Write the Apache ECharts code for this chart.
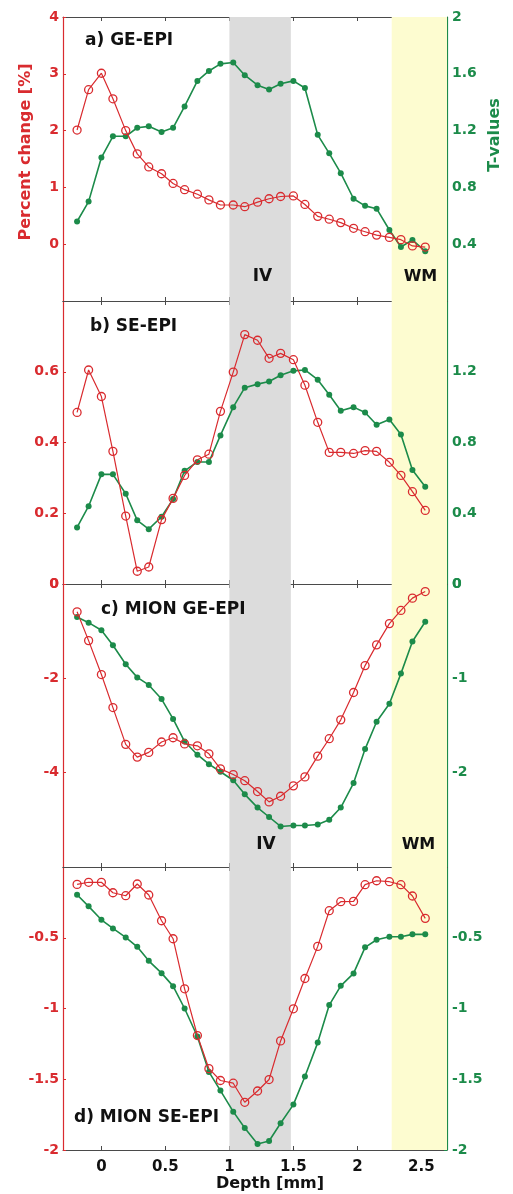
<!DOCTYPE html>
<html>
<head>
<meta charset="utf-8">
<script src="https://cdn.jsdelivr.net/npm/echarts@6/dist/echarts.min.js"></script>
<style>html,body{margin:0;padding:0;background:#fff;}#c{width:513px;height:1194px;}</style>
</head>
<body>
<div id="c"></div>
<script>
// Depth positions (mm)
const depth = [-0.19, -0.10, 0.00, 0.09, 0.19, 0.28, 0.37, 0.47, 0.56, 0.65, 0.75, 0.84, 0.93, 1.03, 1.12, 1.22, 1.31, 1.40, 1.50, 1.59, 1.69, 1.78, 1.87, 1.97, 2.06, 2.15, 2.25, 2.34, 2.43, 2.53];
const xTicks = [0, 0.5, 1, 1.5, 2, 2.5];

// a) GE-EPI
const aPct = [2.01, 2.72, 3.01, 2.56, 2.00, 1.59, 1.36, 1.24, 1.07, 0.96, 0.88, 0.78, 0.69, 0.69, 0.66, 0.74, 0.80, 0.84, 0.85, 0.70, 0.49, 0.44, 0.38, 0.28, 0.22, 0.16, 0.12, 0.08, -0.03, -0.05];
const aT   = [0.56, 0.70, 1.01, 1.16, 1.16, 1.22, 1.23, 1.19, 1.22, 1.37, 1.55, 1.62, 1.67, 1.68, 1.59, 1.52, 1.49, 1.53, 1.55, 1.50, 1.17, 1.04, 0.90, 0.72, 0.67, 0.65, 0.50, 0.38, 0.43, 0.35];
// b) SE-EPI
const bPct = [0.485, 0.605, 0.530, 0.375, 0.192, 0.036, 0.048, 0.182, 0.242, 0.307, 0.351, 0.367, 0.488, 0.599, 0.705, 0.689, 0.638, 0.652, 0.634, 0.562, 0.457, 0.372, 0.372, 0.369, 0.377, 0.375, 0.344, 0.307, 0.261, 0.208];
const bT   = [0.32, 0.44, 0.62, 0.62, 0.51, 0.36, 0.31, 0.38, 0.48, 0.64, 0.69, 0.69, 0.84, 1.00, 1.11, 1.13, 1.145, 1.18, 1.205, 1.21, 1.155, 1.07, 0.98, 1.00, 0.97, 0.90, 0.93, 0.845, 0.645, 0.55];
// c) MION GE-EPI
const cPct = [-0.59, -1.20, -1.92, -2.62, -3.40, -3.67, -3.57, -3.35, -3.26, -3.39, -3.43, -3.60, -3.92, -4.04, -4.17, -4.40, -4.62, -4.50, -4.28, -4.09, -3.65, -3.28, -2.88, -2.30, -1.73, -1.29, -0.84, -0.56, -0.30, -0.16];
const cT   = [-0.35, -0.41, -0.49, -0.65, -0.85, -0.99, -1.07, -1.22, -1.43, -1.67, -1.81, -1.91, -1.99, -2.08, -2.23, -2.37, -2.47, -2.57, -2.56, -2.56, -2.55, -2.50, -2.37, -2.11, -1.75, -1.46, -1.27, -0.95, -0.61, -0.40];
// d) MION SE-EPI
const dPct = [-0.123, -0.108, -0.108, -0.182, -0.203, -0.120, -0.198, -0.380, -0.507, -0.861, -1.191, -1.425, -1.509, -1.528, -1.663, -1.583, -1.502, -1.229, -1.002, -0.788, -0.561, -0.309, -0.245, -0.243, -0.125, -0.097, -0.104, -0.125, -0.205, -0.363];
const dT   = [-0.196, -0.278, -0.373, -0.434, -0.498, -0.564, -0.663, -0.750, -0.842, -1.000, -1.198, -1.448, -1.580, -1.729, -1.844, -1.958, -1.936, -1.811, -1.679, -1.481, -1.241, -0.976, -0.840, -0.752, -0.568, -0.514, -0.493, -0.493, -0.476, -0.476];

// axis ranges per panel
const leftAxes  = [{min:-1, max:4, interval:1, hideMin:true,  hideMax:false},
                   {min:0, max:0.8, interval:0.2, hideMin:false, hideMax:true},
                   {min:-6, max:0, interval:2, hideMin:true, hideMax:false},
                   {min:-2, max:0, interval:0.5, hideMin:false, hideMax:true}];
const rightAxes = [{min:0, max:2, interval:0.4, hideMin:true, hideMax:false},
                   {min:0, max:1.6, interval:0.4, hideMin:false, hideMax:true},
                   {min:-3, max:0, interval:1, hideMin:true, hideMax:false},
                   {min:-2, max:0, interval:0.5, hideMin:false, hideMax:true}];
const pctSets = [aPct, bPct, cPct, dPct];
const tSets = [aT, bT, cT, dT];

const RED = '#d92b2f';
const GREEN = '#1c8b4a';
const FONT = 'DejaVu Sans';
const grids = [
  {left:63, right:66, top:17, height:284},
  {left:63, right:66, top:301, height:283},
  {left:63, right:66, top:584, height:283},
  {left:63, right:66, top:867, height:283}
];

const xAxis = [], yAxis = [], series = [];
for (let k = 0; k < 4; k++) {
  const last = k === 3;
  const common = {
    type:'value', gridIndex:k, min:-0.3, max:2.7,
    splitLine:{show:false},
    axisLine:{show:true, onZero:false, lineStyle:{color:'#4a4a4a', width:1}},
    axisTick:{show:true, inside:true, length:4, customValues:xTicks, lineStyle:{color:'#4a4a4a'}}
  };
  xAxis.push(Object.assign({}, common, {
    position:'bottom',
    axisLabel:{show:last, customValues:xTicks, margin:10, color:'#111', fontFamily:FONT, fontWeight:'bold', fontSize:15}
  }));
  xAxis.push(Object.assign({}, common, {position:'top', axisLabel:{show:false}}));

  const L = leftAxes[k], R = rightAxes[k];
  yAxis.push({
    type:'value', gridIndex:k, position:'left', min:L.min, max:L.max, interval:L.interval,
    splitLine:{show:false},
    axisLine:{show:true, onZero:false, lineStyle:{color:RED, width:1.2}},
    axisTick:{show:true, inside:true, length:3, lineStyle:{color:RED}},
    axisLabel:{color:RED, fontFamily:FONT, fontWeight:'bold', fontSize:14, margin:4,
               showMinLabel:!L.hideMin, showMaxLabel:!L.hideMax}
  });
  yAxis.push({
    type:'value', gridIndex:k, position:'right', min:R.min, max:R.max, interval:R.interval,
    splitLine:{show:false},
    axisLine:{show:true, onZero:false, lineStyle:{color:GREEN, width:1.2}},
    axisTick:{show:true, inside:true, length:3, lineStyle:{color:GREEN}},
    axisLabel:{color:GREEN, fontFamily:FONT, fontWeight:'bold', fontSize:14, margin:5,
               showMinLabel:!R.hideMin, showMaxLabel:!R.hideMax}
  });

  // background bands
  series.push({
    type:'line', xAxisIndex:2*k, yAxisIndex:2*k, data:[], z:0, silent:true,
    markArea:{silent:true, data:[
      [{xAxis:1.0, yAxis:'min', itemStyle:{color:'#dcdcdc'}}, {xAxis:1.48, yAxis:'max'}],
      [{xAxis:2.268, yAxis:'min', itemStyle:{color:'#fdfcd0'}}, {xAxis:2.7, yAxis:'max'}]
    ]}
  });
  series.push({
    type:'line', xAxisIndex:2*k, yAxisIndex:2*k+1, z:2,
    data: depth.map((d,i)=>[d, tSets[k][i]]),
    symbol:'circle', symbolSize:6, showAllSymbol:true,
    lineStyle:{color:GREEN, width:1.6},
    itemStyle:{color:GREEN, borderWidth:0},
    animation:false
  });
  series.push({
    type:'line', xAxisIndex:2*k, yAxisIndex:2*k, z:3,
    data: depth.map((d,i)=>[d, pctSets[k][i]]),
    symbol:'circle', symbolSize:8, showAllSymbol:true,
    lineStyle:{color:RED, width:1.2},
    itemStyle:{color:'rgba(0,0,0,0)', borderColor:RED, borderWidth:1.3},
    animation:false
  });
}

const txt = (x, y, text, size, color, extra) => Object.assign({
  type:'text', x:x, y:y, z:10,
  style:{text:text, fill:color || '#111', font:'bold ' + size + 'px "' + FONT + '"', textAlign:'left', textVerticalAlign:'middle'}
}, extra || {});

const graphic = [
  txt(85, 41, 'a) GE-EPI', 17),
  txt(90, 327, 'b) SE-EPI', 17),
  txt(101, 610, 'c) MION GE-EPI', 17),
  txt(74, 1118, 'd) MION SE-EPI', 17),
  {type:'text', x:262.5, y:277, z:10, style:{text:'IV', fill:'#111', font:'bold 17px "'+FONT+'"', textAlign:'center', textVerticalAlign:'middle'}},
  {type:'text', x:420.5, y:277, z:10, style:{text:'WM', fill:'#111', font:'bold 16px "'+FONT+'"', textAlign:'center', textVerticalAlign:'middle'}},
  {type:'text', x:266, y:845, z:10, style:{text:'IV', fill:'#111', font:'bold 17px "'+FONT+'"', textAlign:'center', textVerticalAlign:'middle'}},
  {type:'text', x:418.5, y:845, z:10, style:{text:'WM', fill:'#111', font:'bold 16px "'+FONT+'"', textAlign:'center', textVerticalAlign:'middle'}},
  {type:'text', x:270, y:1184, z:10, style:{text:'Depth [mm]', fill:'#111', font:'bold 16px "'+FONT+'"', textAlign:'center', textVerticalAlign:'middle'}},
  {type:'text', x:26, y:152, rotation:Math.PI/2, z:10, style:{text:'Percent change [%]', fill:RED, font:'bold 16px "'+FONT+'"', textAlign:'center', textVerticalAlign:'middle'}},
  {type:'text', x:495, y:135, rotation:Math.PI/2, z:10, style:{text:'T-values', fill:GREEN, font:'bold 16px "'+FONT+'"', textAlign:'center', textVerticalAlign:'middle'}}
];

const chart = echarts.init(document.getElementById('c'), null, {renderer:'canvas'});
chart.setOption({
  animation:false,
  backgroundColor:'#fff',
  grid:grids,
  xAxis:xAxis,
  yAxis:yAxis,
  series:series,
  graphic:graphic
});
</script>
</body>
</html>
